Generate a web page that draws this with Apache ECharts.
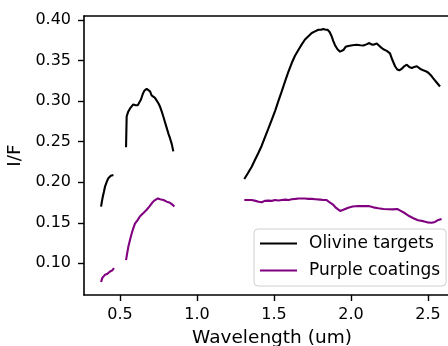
<!DOCTYPE html>
<html><head><meta charset="utf-8">
<script src="https://cdn.jsdelivr.net/npm/echarts@6/dist/echarts.min.js"></script>
<style>html,body{margin:0;padding:0;background:#fff}#c{width:448px;height:346px}</style>
</head><body><div id="c"></div>
<script>
const xTicks = [0.5, 1.0, 1.5, 2.0, 2.5];
const yTicks = [0.10, 0.15, 0.20, 0.25, 0.30, 0.35, 0.40];
const seriesNames = ['Olivine targets', 'Purple coatings'];

const olivine1 = [[0.377,0.170],[0.382,0.176],[0.388,0.182],[0.395,0.188],[0.403,0.195],[0.413,0.200],[0.424,0.205],[0.440,0.208],[0.457,0.209]];
const olivine2 = [[0.539,0.243],[0.543,0.281],[0.553,0.287],[0.565,0.291],[0.586,0.296],[0.600,0.295],[0.615,0.295],[0.636,0.302],[0.648,0.309],[0.658,0.313],[0.673,0.315],[0.684,0.314],[0.695,0.312],[0.705,0.307],[0.716,0.306],[0.727,0.304],[0.738,0.302],[0.750,0.297],[0.760,0.293],[0.771,0.287],[0.781,0.281],[0.792,0.274],[0.803,0.267],[0.814,0.260],[0.825,0.254],[0.836,0.247],[0.846,0.238]];
const olivine3 = [[1.307,0.204],[1.330,0.211],[1.355,0.219],[1.375,0.227],[1.398,0.236],[1.420,0.245],[1.442,0.256],[1.463,0.266],[1.485,0.277],[1.507,0.288],[1.528,0.300],[1.550,0.312],[1.571,0.324],[1.593,0.336],[1.615,0.347],[1.636,0.356],[1.658,0.363],[1.680,0.370],[1.701,0.376],[1.723,0.380],[1.745,0.384],[1.766,0.386],[1.788,0.388],[1.805,0.388],[1.820,0.389],[1.835,0.388],[1.848,0.388],[1.862,0.385],[1.874,0.380],[1.885,0.374],[1.896,0.369],[1.912,0.364],[1.929,0.361],[1.950,0.363],[1.965,0.367],[1.982,0.368],[2.010,0.369],[2.037,0.3695],[2.060,0.369],[2.080,0.3686],[2.100,0.370],[2.119,0.3716],[2.132,0.370],[2.145,0.3695],[2.167,0.371],[2.190,0.367],[2.210,0.364],[2.232,0.362],[2.253,0.359],[2.268,0.351],[2.286,0.343],[2.300,0.339],[2.314,0.338],[2.330,0.340],[2.345,0.343],[2.362,0.345],[2.378,0.342],[2.394,0.341],[2.410,0.342],[2.427,0.343],[2.448,0.340],[2.469,0.338],[2.485,0.337],[2.502,0.335],[2.518,0.332],[2.534,0.328],[2.556,0.323],[2.578,0.318]];

const purple1 = [[0.377,0.077],[0.385,0.082],[0.393,0.084],[0.403,0.086],[0.418,0.087],[0.435,0.090],[0.448,0.091],[0.461,0.094]];
const purple2 = [[0.539,0.104],[0.546,0.112],[0.554,0.1205],[0.565,0.129],[0.576,0.137],[0.586,0.143],[0.597,0.149],[0.613,0.153],[0.630,0.158],[0.652,0.162],[0.673,0.166],[0.690,0.170],[0.706,0.174],[0.720,0.177],[0.732,0.179],[0.746,0.180],[0.760,0.179],[0.782,0.178],[0.803,0.176],[0.820,0.175],[0.836,0.173],[0.853,0.170]];
const purple3 = [[1.307,0.178],[1.330,0.178],[1.355,0.178],[1.380,0.177],[1.400,0.176],[1.420,0.1753],[1.440,0.177],[1.463,0.1773],[1.485,0.177],[1.507,0.178],[1.530,0.1775],[1.550,0.178],[1.575,0.1785],[1.595,0.178],[1.615,0.179],[1.640,0.1795],[1.660,0.180],[1.680,0.180],[1.700,0.180],[1.723,0.1795],[1.745,0.1794],[1.770,0.179],[1.800,0.1785],[1.820,0.178],[1.842,0.178],[1.862,0.175],[1.885,0.172],[1.905,0.168],[1.929,0.1646],[1.950,0.166],[1.982,0.1686],[2.010,0.170],[2.047,0.1707],[2.080,0.1705],[2.112,0.1707],[2.145,0.169],[2.177,0.168],[2.210,0.167],[2.242,0.1667],[2.270,0.1665],[2.300,0.167],[2.320,0.165],[2.351,0.1617],[2.380,0.158],[2.405,0.1556],[2.435,0.153],[2.469,0.152],[2.495,0.1505],[2.524,0.150],[2.545,0.151],[2.567,0.1535],[2.588,0.1547]];

const FONT = 'DejaVu Sans';
function seg(name, data, color) {
  return { name: name, type: 'line', data: data, showSymbol: false, symbol: 'none',
    lineStyle: { color: color, width: 2.1 }, itemStyle: { color: color }, animation: false, z: 3 };
}
const X_MIN = 0.266, X_MAX = 2.7076;
const chart = echarts.init(document.getElementById('c'), null, { renderer: 'canvas' });
chart.setOption({
  animation: false,
  backgroundColor: '#fff',
  grid: { left: 84, top: 16, bottom: 51, right: -12, containLabel: false, outerBoundsMode: 'none' },
  xAxis: [{
    type: 'value', min: X_MIN, max: X_MAX,
    name: 'Wavelength (um)', nameLocation: 'middle', nameGap: 34,
    nameTextStyle: { fontFamily: FONT, fontSize: 18.5, color: '#000' },
    axisLine: { show: true, onZero: false, lineStyle: { color: '#000', width: 1.6 } },
    axisTick: { show: true, customValues: xTicks, length: 6, lineStyle: { color: '#000', width: 1.4 } },
    axisLabel: { customValues: xTicks, fontFamily: FONT, fontSize: 16, color: '#000', margin: 12,
      formatter: v => v.toFixed(1) },
    splitLine: { show: false }
  }, {
    type: 'value', min: X_MIN, max: X_MAX, position: 'top',
    axisLine: { show: true, onZero: false, lineStyle: { color: '#000', width: 1.6 } },
    axisTick: { show: false }, axisLabel: { show: false }, splitLine: { show: false }
  }],
  yAxis: {
    type: 'value', min: 0.0609, max: 0.405,
    name: 'I/F', nameLocation: 'middle', nameGap: 55, nameRotate: 90,
    nameTextStyle: { fontFamily: FONT, fontSize: 18.5, color: '#000' },
    axisLine: { show: true, onZero: false, lineStyle: { color: '#000', width: 1.6 } },
    axisTick: { show: true, customValues: yTicks, length: 6, lineStyle: { color: '#000', width: 1.4 } },
    axisLabel: { customValues: yTicks, fontFamily: FONT, fontSize: 16, color: '#000', margin: 13,
      formatter: v => v.toFixed(2) },
    splitLine: { show: false }
  },
  legend: {
    data: seriesNames, orient: 'vertical', left: 254, top: 229,
    icon: 'rect', itemWidth: 37, itemHeight: 2, itemGap: 10,
    padding: [6, 6, 7, 6],
    borderColor: '#d0d0d0', borderWidth: 1, borderRadius: 4,
    backgroundColor: 'rgba(255,255,255,0.85)',
    textStyle: { fontFamily: FONT, fontSize: 17, color: '#000', padding: [0, 0, 0, 7] }
  },
  series: [
    seg(seriesNames[0], olivine1, '#000000'),
    seg(seriesNames[0], olivine2, '#000000'),
    seg(seriesNames[0], olivine3, '#000000'),
    seg(seriesNames[1], purple1, '#800080'),
    seg(seriesNames[1], purple2, '#800080'),
    seg(seriesNames[1], purple3, '#800080')
  ]
});
</script>
</body></html>
